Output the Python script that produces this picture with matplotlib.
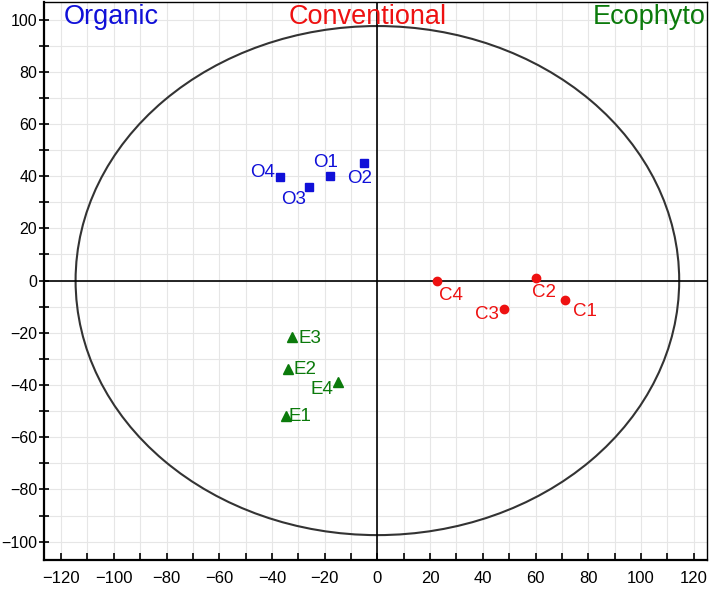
import numpy as np
import matplotlib
matplotlib.use("Agg")
import matplotlib.pyplot as plt
from matplotlib.patches import Ellipse
from matplotlib.ticker import MultipleLocator

plt.rcParams['font.family'] = ['Liberation Sans', 'DejaVu Sans']

# score coordinates
organic_labels = ["O1", "O2", "O3", "O4"]
organic_x = [-17.9, -4.9, -25.9, -36.9]
organic_y = [40.2, 45.2, 36.0, 39.5]

conv_labels = ["C1", "C2", "C3", "C4"]
conv_x = [71.1, 60.1, 47.9, 22.8]
conv_y = [-7.3, 1.1, -11.0, 0.0]

eco_labels = ["E1", "E2", "E3", "E4"]
eco_x = [-34.6, -33.8, -32.3, -14.8]
eco_y = [-52.0, -34.0, -21.5, -39.0]

# label offsets (points) so text sits like in the original
organic_off = [(-3, 9.5), (-3.5, -11.5), (-11, -9.5), (-13, 3.5)]
conv_off = [(14.5, -8.5), (6, -11), (-12, -3.5), (9.5, -11)]
eco_off = [(10, 0), (12, 0), (13, -1.5), (-12, -5)]

groups = [
    ("Organic", organic_labels, organic_x, organic_y, organic_off, "#1010d8", "s", 6),
    ("Conventional", conv_labels, conv_x, conv_y, conv_off, "#ee1111", "o", 6),
    ("Ecophyto", eco_labels, eco_x, eco_y, eco_off, "#0b7a0b", "^", 7),
]

fig = plt.figure(figsize=(7.09, 5.90), dpi=100)
ax = fig.add_axes([0.062, 0.051, 0.935, 0.946])

ax.set_xlim(-126.5, 125)
ax.set_ylim(-107, 106.8)

# light grid every 10 units
ax.xaxis.set_major_locator(MultipleLocator(20))
ax.xaxis.set_minor_locator(MultipleLocator(10))
ax.yaxis.set_major_locator(MultipleLocator(20))
ax.yaxis.set_minor_locator(MultipleLocator(10))
ax.grid(which="both", color="#e6e6e6", linewidth=0.8)
ax.set_axisbelow(True)

# cross through the origin
ax.axhline(0, color="black", linewidth=1.2)
ax.axvline(0, color="black", linewidth=1.2)

# confidence ellipse
ell = Ellipse((0, 0), width=2 * 114.5, height=2 * 97.5, fill=False,
              edgecolor="#333333", linewidth=1.5)
ax.add_patch(ell)

for name, labs, xs, ys, offs, col, mk, ms in groups:
    ax.plot(xs, ys, linestyle="none", marker=mk, color=col, markersize=ms)
    for lab, x, y, off in zip(labs, xs, ys, offs):
        ax.annotate(lab, (x, y), xytext=off, textcoords="offset points",
                    ha="center", va="center", color=col, fontsize=13.5)

# group headings
ax.text(-101, 101, "Organic", color="#1010d8", fontsize=19.5, ha="center", va="center")
ax.text(-3.5, 101, "Conventional", color="#ee1111", fontsize=19.5, ha="center", va="center")
ax.text(103, 101, "Ecophyto", color="#0b7a0b", fontsize=19.5, ha="center", va="center")

def fmt(v):
    return str(int(v)).replace("-", "\u2212")

ax.set_xticks(np.arange(-120, 121, 20))
ax.set_xticklabels([fmt(v) for v in np.arange(-120, 121, 20)])
ax.set_yticks(np.arange(-100, 101, 20))
ax.set_yticklabels([fmt(v) for v in np.arange(-100, 101, 20)])

ax.tick_params(axis="x", which="both", direction="in", length=5, width=1.2,
               labelsize=12, pad=8)
ax.tick_params(axis="y", which="both", direction="inout", length=7, width=1.2,
               labelsize=11.5, pad=1.5)

for s in ["left", "bottom"]:
    ax.spines[s].set_linewidth(1.6)
for s in ["top", "right"]:
    ax.spines[s].set_linewidth(1.0)

fig.savefig("out.png", dpi=100)
